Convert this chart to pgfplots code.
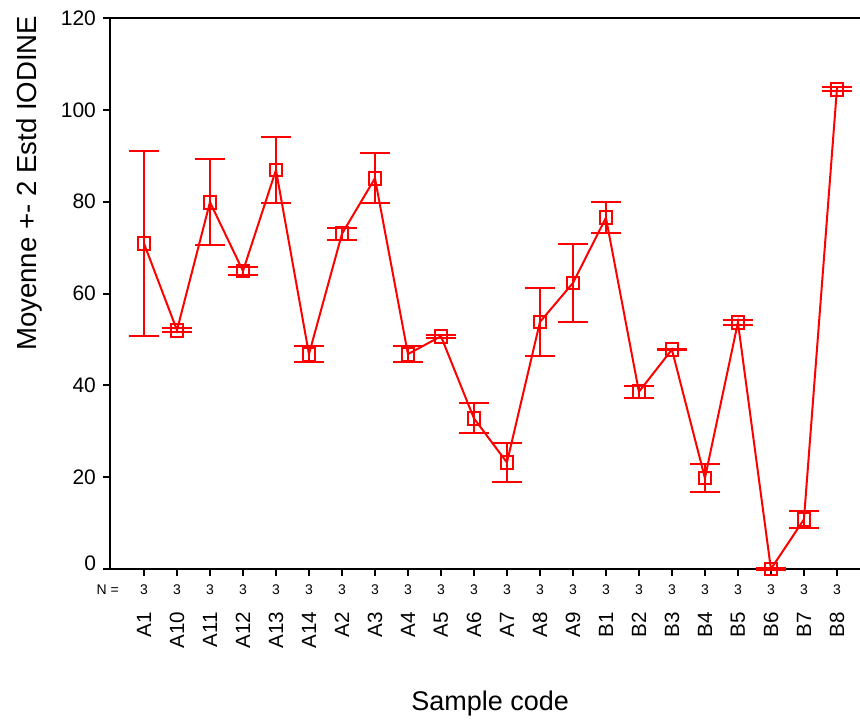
\documentclass[border=0pt]{standalone}
\usepackage{fontspec}
\setmainfont{Liberation Sans}
\usepackage{pgfplots}
\usepackage{pgfplotstable}
\pgfplotsset{compat=1.18}
\definecolor{pred}{RGB}{255,0,0}

% sample index, mean, 2 std
\pgfplotstableread{
x y e
0 70.9 20.2
1 52.0 0.4
2 79.9 9.4
3 64.9 0.85
4 86.9 7.25
5 46.8 1.7
6 73.0 1.3
7 85.1 5.4
8 46.8 1.7
9 50.7 0.3
10 32.8 3.25
11 23.2 4.25
12 53.8 7.5
13 62.3 8.5
14 76.5 3.4
15 38.6 1.25
16 47.8 0.2
17 19.8 3.0
18 53.7 0.6
19 0.0 0.2
20 10.8 1.9
21 104.5 0.4
}\iodine

\begin{document}
\begin{tikzpicture}
\path[use as bounding box] (-55pt,-75pt) rectangle (375pt,284.5pt);
\begin{axis}[
  at={(0,0)}, anchor=south west,
  scale only axis, width=375pt, height=275.5pt,
  xmin=-1.03, xmax=21.7, ymin=0, ymax=120,
  axis x line=box, axis y line=left,
  axis line style={-, line width=1pt, black},
  xtick pos=left, ytick pos=left,
  tick align=outside, major tick length=3.5pt,
  tick style={black, line width=1pt},
  ytick={20,40,...,120},
  extra y ticks={0},
  extra y tick style={yticklabel style={yshift=3pt}},
  xtick={0,...,21},
  xticklabels={A1,A10,A11,A12,A13,A14,A2,A3,A4,A5,A6,A7,A8,A9,B1,B2,B3,B4,B5,B6,B7,B8},
  xticklabel style={rotate=90, anchor=east, font=\fontsize{10.3}{12}\selectfont},
  xticklabel shift=14.5pt,
  yticklabel style={font=\fontsize{10.5}{12}\selectfont},
  /pgf/number format/assume math mode=true,
  xlabel={Sample code},
  ylabel={Moyenne +- 2 Estd IODINE},
  label style={font=\fontsize{13.5}{16}\selectfont},
  ylabel style={font=\fontsize{13.8}{16}\selectfont,
    at={(axis description cs:-0.107,0.70)}, anchor=center},
  xlabel style={at={(axis description cs:0.507,-0.245)}, anchor=center},
  clip=false,
]
\addplot[pred, line width=1pt, mark=square, mark size=3.2pt,
  mark options={solid, line width=1pt},
  error bars/.cd, y dir=both, y explicit, error mark=|,
  error mark options={mark size=7.6pt, line width=1pt, pred},
  error bar style={line width=1pt, pred}]
  table[x=x, y=y, y error=e]{\iodine};

\node[font=\fontsize{7}{8}\selectfont, yshift=-10.5pt] at (axis cs:-1.1,0) {N =};
\pgfplotsinvokeforeach{0,1,2,3,4,5,6,7,8,9,10,11,12,13,14,15,16,17,18,19,20,21}{
  \node[font=\fontsize{7}{8}\selectfont, yshift=-10.5pt] at (axis cs:#1,0) {3};
}
\end{axis}
\end{tikzpicture}
\end{document}
